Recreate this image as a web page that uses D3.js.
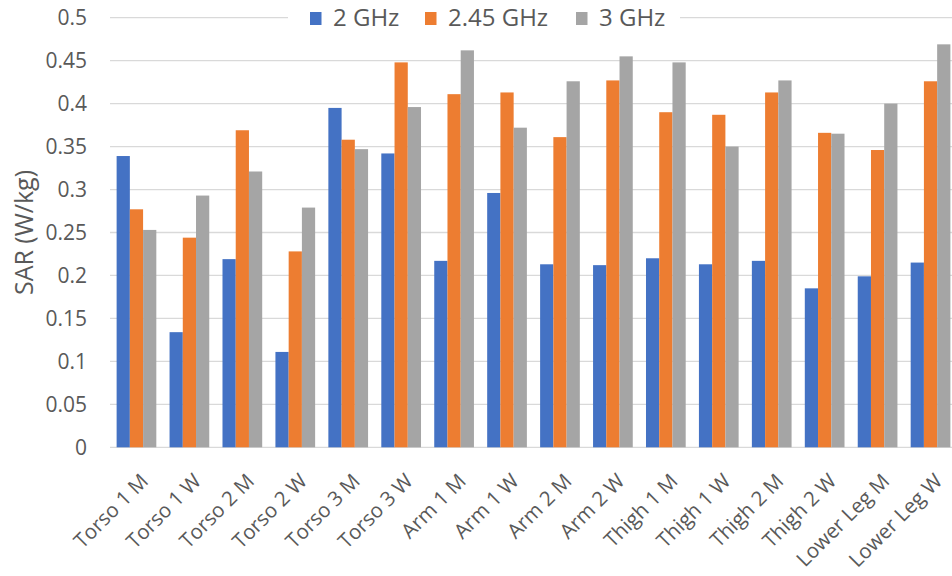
<!DOCTYPE html>
<html>
<head>
<meta charset="utf-8">
<script src="https://cdn.jsdelivr.net/npm/d3@7"></script>
<style>
  html, body { margin: 0; padding: 0; background: #fff; }
  svg { display: block; font-family: "Open Sans", sans-serif; }
</style>
</head>
<body>
<svg id="chart" width="952" height="576"></svg>
<script>
const categories = ["Torso 1 M","Torso 1 W","Torso 2 M","Torso 2 W","Torso 3 M","Torso 3 W","Arm 1 M","Arm 1 W","Arm 2 M","Arm 2 W","Thigh 1 M","Thigh 1 W","Thigh 2 M","Thigh 2 W","Lower Leg M","Lower Leg W"];
const seriesNames = ["2 GHz","2.45 GHz","3 GHz"];
const ghz2   = [0.339,0.134,0.219,0.111,0.395,0.342,0.217,0.296,0.213,0.212,0.220,0.213,0.217,0.185,0.199,0.215];
const ghz245 = [0.277,0.244,0.369,0.228,0.358,0.448,0.411,0.413,0.361,0.427,0.390,0.387,0.413,0.366,0.346,0.426];
const ghz3   = [0.253,0.293,0.321,0.279,0.347,0.396,0.462,0.372,0.426,0.455,0.448,0.350,0.427,0.365,0.400,0.469];
const yTicks = [0,0.05,0.1,0.15,0.2,0.25,0.3,0.35,0.4,0.45,0.5];
const colors = ["#4472C4","#ED7D31","#A5A5A5"];
const series = [ghz2, ghz245, ghz3];

const svg = d3.select("#chart");
const mLeft = 110, mRight = 957, mTop = 17.7, mBottom = 447.3;
const textColor = "#595959";

const x = d3.scaleBand().domain(categories).range([mLeft, mRight]).paddingInner(0).paddingOuter(0);
const inner = d3.scaleBand().domain(seriesNames).range([0, x.bandwidth()]).paddingOuter(0.5).paddingInner(0);
const y = d3.scaleLinear().domain([0, 0.5]).range([mBottom, mTop]);

// gridlines
svg.append("g").selectAll("line").data(yTicks).join("line")
  .attr("x1", mLeft).attr("x2", 952)
  .attr("y1", d => y(d)).attr("y2", d => y(d))
  .attr("stroke", "#d9d9d9").attr("stroke-width", 1.3);

// y tick labels
const yAxis = d3.axisLeft(y).tickValues(yTicks).tickFormat(d => String(+d.toFixed(2))).tickSize(0).tickPadding(0);
const ya = svg.append("g").attr("transform", `translate(87,0)`).call(yAxis);
ya.select(".domain").remove();
ya.selectAll("text").attr("fill", textColor).style("font-size", "21px").style("font-family", "'Open Sans', sans-serif");

// bars
const groups = svg.append("g").selectAll("g").data(categories).join("g")
  .attr("transform", d => `translate(${x(d)},0)`);
groups.selectAll("rect").data((d, i) => series.map((s, j) => ({ name: seriesNames[j], v: s[i], j })))
  .join("rect")
  .attr("x", d => inner(d.name))
  .attr("width", inner.bandwidth())
  .attr("y", d => y(d.v))
  .attr("height", d => y(0) - y(d.v))
  .attr("fill", d => colors[d.j]);

// x labels
const xAxis = d3.axisBottom(x).tickSize(0).tickPadding(0);
const xa = svg.append("g").attr("transform", `translate(0,${mBottom})`).call(xAxis);
xa.select(".domain").remove();
xa.selectAll("text")
  .attr("fill", textColor)
  .style("font-size", "20.5px").style("font-family", "'Open Sans', sans-serif")
  .attr("text-anchor", "end")
  .attr("dy", "0.35em")
  .attr("y", 0)
  .attr("transform", "translate(8,30) rotate(-45)");

// y title
svg.append("text")
  .attr("transform", `translate(33,232.5) rotate(-90)`)
  .attr("text-anchor", "middle")
  .attr("fill", textColor)
  .style("font-size", "25px")
  .text("SAR (W/kg)");

// legend
const legend = svg.append("g");
legend.append("rect").attr("x", 288).attr("y", 4).attr("width", 392).attr("height", 28).attr("fill", "#fff");
const legX = [310, 425, 576];
seriesNames.forEach((n, j) => {
  legend.append("rect").attr("x", legX[j]).attr("y", 12).attr("width", 11.5).attr("height", 13).attr("fill", colors[j]);
  legend.append("text").attr("x", legX[j] + 23).attr("y", 26)
    .attr("fill", textColor).style("font-size", "24px").text(n);
});
</script>
</body>
</html>
